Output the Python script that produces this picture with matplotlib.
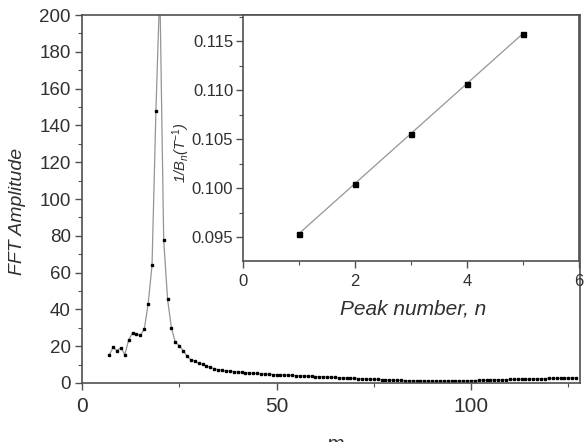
"""FFT amplitude spectrum with inset of 1/B_n against peak number."""

import matplotlib

matplotlib.use("Agg")
import matplotlib.pyplot as plt
import numpy as np
from matplotlib.ticker import MultipleLocator

plt.rcParams["font.family"] = ["Liberation Sans", "DejaVu Sans"]
plt.rcParams["mathtext.fontset"] = "custom"
plt.rcParams["mathtext.rm"] = "Liberation Sans"
plt.rcParams["mathtext.it"] = "Liberation Sans:italic"

# main spectrum: frequency index and amplitude
freq = np.arange(7, 128)
amplitude = [
    15.2, 19.4, 17.6, 19.2, 15.4, 23.4, 27.3, 26.6, 25.9, 29.2,
    42.9, 64.0, 148.0, 215.0, 77.5, 45.5, 29.7, 22.1, 20.3, 17.6,
    14.7, 12.5, 12.0, 10.7, 10.1, 9.2, 8.5, 7.8, 7.2,
    6.9, 6.6, 6.4, 6.2, 6.0, 5.8, 5.6, 5.5, 5.3, 5.2, 5.0, 4.9, 4.8, 4.6, 4.5,
    4.4, 4.3, 4.2, 4.1, 4.0, 3.9, 3.8, 3.7, 3.6, 3.5,
    3.4, 3.3, 3.2, 3.1, 3.0, 2.9, 2.8, 2.7, 2.6, 2.5,
    2.4, 2.3, 2.2, 2.1, 2.0, 1.9, 1.8, 1.7, 1.6, 1.5,
    1.45, 1.4, 1.35, 1.3, 1.25, 1.2, 1.2, 1.15, 1.1, 1.1,
    1.1, 1.1, 1.1, 1.1, 1.15, 1.15, 1.2, 1.2, 1.25, 1.3,
    1.35, 1.4, 1.45, 1.5, 1.6, 1.65, 1.7, 1.75, 1.8, 1.9,
    1.95, 2.0, 2.05, 2.1, 2.2, 2.25, 2.3, 2.35, 2.4, 2.5,
    2.55, 2.6, 2.6, 2.65, 2.7, 2.75, 2.8,
]

# inset: peak number vs inverse field
peak_n = [1, 2, 3, 4, 5]
inv_b = [0.0954, 0.1005, 0.1056, 0.1107, 0.1158]

TEXT = "#303030"
AXIS = "#505050"
LINE = "#959595"


def style_axes(ax):
    for spine in ax.spines.values():
        spine.set_color(AXIS)
        spine.set_linewidth(1.2)
    ax.tick_params(which="both", direction="out", colors=AXIS, labelcolor=TEXT,
                   top=False, right=False)
    ax.tick_params(which="major", length=5, width=1.0)
    ax.tick_params(which="minor", length=3, width=0.8)


fig = plt.figure(figsize=(5.87, 4.42), dpi=100)
ax = fig.add_axes([0.1397, 0.1335, 0.8483, 0.8325])
ax.plot(freq, amplitude, color=LINE, lw=0.9, marker="s", ms=1.9,
        mfc="black", mec="black", zorder=2)
ax.set_xlim(0, 128)
ax.set_ylim(0, 200)
ax.xaxis.set_major_locator(MultipleLocator(50))
ax.xaxis.set_minor_locator(MultipleLocator(25))
ax.yaxis.set_major_locator(MultipleLocator(20))
ax.yaxis.set_minor_locator(MultipleLocator(10))
style_axes(ax)
ax.tick_params(axis="x", labelsize=15, pad=5)
ax.tick_params(axis="y", labelsize=13.5, pad=3)
ax.set_ylabel("FFT Amplitude", fontsize=14, style="italic", color=TEXT)
ax.yaxis.set_label_coords(-0.112, 0.467)

ins = fig.add_axes([0.414, 0.4095, 0.572, 0.5565])
ins.plot(peak_n, inv_b, color=LINE, lw=0.9, marker="s", ms=3.6,
         mfc="black", mec="black")
ins.set_xlim(0, 6)
ins.set_ylim(0.0926, 0.1177)
ins.xaxis.set_major_locator(MultipleLocator(2))
ins.xaxis.set_minor_locator(MultipleLocator(1))
ins.yaxis.set_major_locator(MultipleLocator(0.005))
ins.yaxis.set_minor_locator(MultipleLocator(0.0025))
ins.yaxis.set_major_formatter(plt.FormatStrFormatter("%.3f"))
style_axes(ins)
ins.tick_params(axis="x", labelsize=12, pad=4)
ins.tick_params(axis="y", labelsize=12, pad=2)
ins.set_xlabel("Peak number, n", fontsize=15, style="italic", color=TEXT)
ins.xaxis.set_label_coords(0.506, -0.157)
ins.set_ylabel(r"1/B$_n$(T$^{-1}$)", fontsize=10.5, style="italic", color=TEXT)
ins.yaxis.set_label_coords(-0.151, 0.44)

# x-axis title of the main plot, cut off by the bottom edge
fig.text(335 / 587, -0.018, "m", fontsize=15, style="italic", color=TEXT,
         ha="center", va="baseline")

fig.savefig("out.png", dpi=100)
